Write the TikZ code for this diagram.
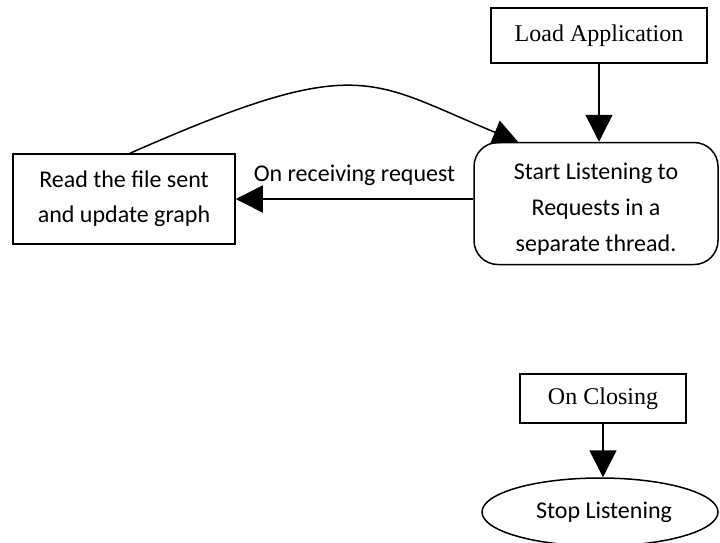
\documentclass[tikz,border=0pt]{standalone}
\usepackage{fontspec}
\setmainfont{Carlito}
\newfontfamily\timesfont{Liberation Serif}
\usetikzlibrary{arrows.meta,shapes.geometric,calc}

\tikzset{
  box/.style={draw, line width=1.5pt, align=center, inner sep=0pt,
    font=\fontsize{24}{35}\selectfont},
  serifbox/.style={box, font=\timesfont\fontsize{24}{35}\selectfont},
  roundbox/.style={box, rounded corners=24pt, font=\fontsize{24}{36}\selectfont},
  ovalbox/.style={box, ellipse},
  flow/.style={line width=1.5pt, -{Triangle[length=27pt,width=27pt]}},
}

\begin{document}
\begin{tikzpicture}[x=1pt,y=-1pt]
  \useasboundingbox (0,0) rectangle (720,542);

  % main flow
  \node[serifbox, minimum width=216pt, minimum height=55pt] (load) at (599,35.5) {Load Application};
  \node[roundbox, minimum width=244pt, minimum height=122pt] (start) at (596,203.5)
    {\rule{0pt}{28pt}Start Listening to\\Requests in a\\separate thread.};
  \node[box, minimum width=222pt, minimum height=90pt] (read) at (124,199)
    {Read the file sent\\and update graph};

  % shutdown flow
  \node[serifbox, minimum width=166pt, minimum height=49pt] (closing) at (603,398.5) {On Closing};
  \node[ovalbox, minimum width=236pt, minimum height=68pt] (stop) at (600,512) {\hspace*{8pt}Stop Listening};

  % connectors
  \draw[flow] (load.south) -- (load.south |- start.north);
  \draw[flow] (start.west |- read.east) -- (read.east)
    node[midway, above=10pt, inner sep=3pt, font=\fontsize{24}{30}\selectfont] (lbl) {On receiving request};
  \coordinate (back) at ([xshift=-78pt]start.north);
  \draw[line width=1.5pt, -{Triangle[length=25pt,width=25pt]}]
    ([xshift=6pt]read.north) .. controls (360,52) and (368,80) .. (back);
  \draw[flow] (closing.south) -- (closing.south |- stop.north);
\end{tikzpicture}
\end{document}
